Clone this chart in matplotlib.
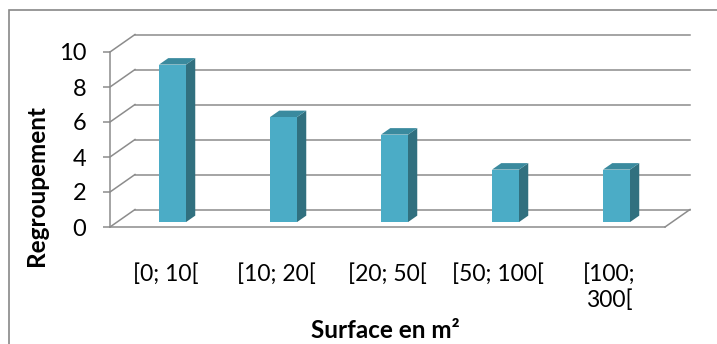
import matplotlib
matplotlib.use("Agg")
import matplotlib.pyplot as plt
from matplotlib.patches import Polygon, Rectangle
from matplotlib.lines import Line2D

# Data
categories = ["[0; 10[", "[10; 20[", "[20; 50[", "[50; 100[", "[100;\n300["]
values = [9, 6, 5, 3, 3]
yticks = [0, 2, 4, 6, 8, 10]
xlabel = "Surface en m²"
ylabel = "Regroupement"

# Styling
FONT = "Lato"
FACE = "#4BACC6"
SIDE = "#31707F"
TOP = "#3A8A9E"
GRID = "#8C8C8C"

W, H = 717, 344
fig = plt.figure(figsize=(W / 100, H / 100), dpi=100)
fig.patch.set_facecolor("white")

# Front plane of the plot (pixels from top-left)
left_px, right_px, top_px, bottom_px = 110, 665, 52, 227
ax = fig.add_axes([left_px / W, 1 - bottom_px / H,
                   (right_px - left_px) / W, (bottom_px - top_px) / H])
n = len(categories)
ax.set_xlim(0, n)
ax.set_ylim(0, 10)
ax.patch.set_alpha(0)

# Depth of the pseudo-3D box in data units
xu = (right_px - left_px) / n          # pixels per category
yu = (bottom_px - top_px) / 10         # pixels per value unit
dx = 25 / xu
dy = 17.5 / yu

# Back wall gridlines and side-wall connectors
for v in yticks:
    ax.add_line(Line2D([0, dx], [v, v + dy], color=GRID, lw=1.1,
                       clip_on=False, zorder=1))
    ax.add_line(Line2D([dx, n + dx], [v + dy, v + dy], color=GRID, lw=1.1,
                       clip_on=False, zorder=1))
# Floor right edge
ax.add_line(Line2D([n, n + dx], [0, dy], color=GRID, lw=1.1,
                   clip_on=False, zorder=1))

# Bars with side and top faces
bw = 27 / xu
f0 = 0.28      # front offset inside the depth
bd = 0.37      # bar depth fraction
for i, v in enumerate(values):
    x0 = i + 0.5 - bw / 2 + f0 * dx
    y0 = f0 * dy
    bdx, bdy = bd * dx, bd * dy
    ax.add_patch(Polygon([(x0 + bw, y0), (x0 + bw + bdx, y0 + bdy),
                          (x0 + bw + bdx, y0 + bdy + v), (x0 + bw, y0 + v)],
                         closed=True, fc=SIDE, ec="none", clip_on=False, zorder=3))
    ax.add_patch(Polygon([(x0, y0 + v), (x0 + bw, y0 + v),
                          (x0 + bw + bdx, y0 + v + bdy), (x0 + bdx, y0 + v + bdy)],
                         closed=True, fc=TOP, ec="none", clip_on=False, zorder=3))
    ax.add_patch(Rectangle((x0, y0), bw, v, fc=FACE, ec="none",
                           clip_on=False, zorder=4))

# Axes lines
for s in ["top", "right"]:
    ax.spines[s].set_visible(False)
for s in ["left", "bottom"]:
    ax.spines[s].set_color(GRID)
    ax.spines[s].set_linewidth(1.1)
    ax.spines[s].set_zorder(5)

ax.set_yticks(yticks)
ax.set_yticklabels([str(t) for t in yticks], fontsize=17, family=FONT)
ax.tick_params(axis="y", length=5, width=1.1, color=GRID, pad=12)
ax.set_xticks([i + 0.5 for i in range(n)])
ax.set_xticklabels(categories, fontsize=16.5, family=FONT, linespacing=1.25)
ax.tick_params(axis="x", length=0, pad=26)

fig.text(37 / W, 1 - 186 / H, ylabel, rotation=90, ha="center", va="center",
         fontsize=17.5, fontweight="bold", family=FONT)
fig.text(385 / W, 1 - 331 / H, xlabel, ha="center", va="center",
         fontsize=17.5, fontweight="bold", family=FONT)

# Chart frame
fig.add_artist(Rectangle((9 / W, -0.05), 1.0, 1 - 10 / H + 0.05,
                         transform=fig.transFigure, fill=False,
                         ec="#888888", lw=1.2))

fig.savefig("out.png", dpi=100)
